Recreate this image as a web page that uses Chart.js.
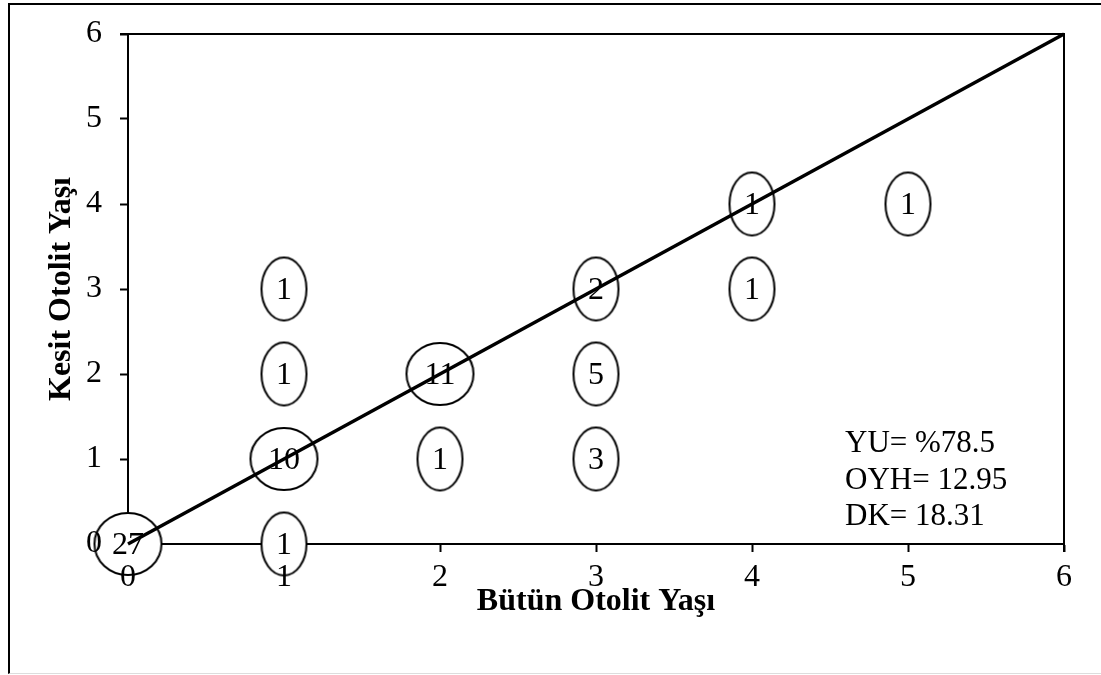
<!DOCTYPE html>
<html><head><meta charset="utf-8">
<script src="https://cdn.jsdelivr.net/npm/chart.js@4"></script>
<style>
html,body{margin:0;padding:0;background:#fff;overflow:hidden}
#wrap{position:relative;width:1101px;height:675px;overflow:hidden}
#frame{position:absolute;left:8px;top:3px;width:1200px;height:668px;border-left:2px solid #000;border-top:2px solid #000;border-bottom:1px solid #ddd}
canvas{position:absolute;left:0;top:0}
</style></head>
<body><div id="wrap"><div id="frame"></div><canvas id="c" width="1101" height="675"></canvas></div>
<script>
// Data
const butunYas = [0, 1, 1, 1, 1, 2, 2, 3, 3, 3, 4, 4, 5];
const kesitYas = [0, 0, 1, 2, 3, 1, 2, 1, 2, 3, 3, 4, 4];
const counts   = [27, 1, 10, 1, 1, 1, 11, 3, 5, 2, 1, 1, 1];
const lineX = [0, 6];
const lineY = [0, 6];
const axisMin = 0, axisMax = 6;
const statLines = ['YU= %78.5', 'OYH= 12.95', 'DK= 18.31'];
const xTitle = 'Bütün Otolit Yaşı';
const yTitle = 'Kesit Otolit Yaşı';

const SERIF = '"Liberation Serif", "Times New Roman", serif';

function makeEllipse(rx, ry) {
  const c = document.createElement('canvas');
  c.width = Math.ceil(rx * 2 + 4); c.height = Math.ceil(ry * 2 + 4);
  const g = c.getContext('2d');
  g.beginPath();
  g.ellipse(c.width / 2, c.height / 2, rx, ry, 0, 0, Math.PI * 2);
  g.fillStyle = '#fff'; g.fill();
  g.lineWidth = 2; g.strokeStyle = '#000'; g.stroke();
  return c;
}
const smallE = makeEllipse(22.5, 31.5);
const bigE = makeEllipse(33.5, 31);

const pts = butunYas.map((x, i) => ({x: x, y: kesitYas[i]}));
const linePts = lineX.map((x, i) => ({x: x, y: lineY[i]}));

const labelPlugin = {
  id: 'labels',
  beforeDatasetsDraw(chart) {
    const {ctx, chartArea: a} = chart;
    ctx.save();
    ctx.strokeStyle = '#000'; ctx.lineWidth = 2;
    ctx.beginPath();
    ctx.moveTo(a.left - 8, a.top); ctx.lineTo(a.right, a.top); ctx.lineTo(a.right, a.bottom + 8);
    ctx.stroke();
    ctx.restore();
  },
  afterDatasetDraw(chart, args) {
    if (args.index !== 1) return;
    const {ctx} = chart;
    const meta = chart.getDatasetMeta(1);
    ctx.save();
    ctx.font = '32px ' + SERIF;
    ctx.fillStyle = '#000';
    ctx.textAlign = 'center';
    ctx.textBaseline = 'middle';
    meta.data.forEach((el, i) => {
      ctx.fillText(String(counts[i]), el.x, el.y + 2);
    });
    ctx.restore();
  },
  afterDraw(chart) {
    const {ctx} = chart;
    ctx.save();
    ctx.font = '31px ' + SERIF;
    ctx.fillStyle = '#000';
    ctx.textAlign = 'left';
    ctx.textBaseline = 'alphabetic';
    statLines.forEach((t, i) => ctx.fillText(t, 845, 452 + i * 36.5));
    ctx.restore();
  }
};

new Chart(document.getElementById('c'), {
  type: 'scatter',
  data: {
    datasets: [
      {
        type: 'line', data: linePts, showLine: true, borderColor: '#000', borderWidth: 3.5,
        pointRadius: 0, fill: false, order: 0, clip: false
      },
      {
        data: pts, showLine: false, order: 1, clip: false,
        pointStyle: ctx => (counts[ctx.dataIndex] >= 10 ? bigE : smallE),
        pointRadius: 30
      }
    ]
  },
  options: {
    responsive: false, animation: false, devicePixelRatio: 1,
    layout: {padding: {top: 33, right: 37, left: 0, bottom: 0}},
    plugins: {legend: {display: false}, tooltip: {enabled: false}},
    scales: {
      x: {
        type: 'linear', min: axisMin, max: axisMax,
        ticks: {stepSize: 1, color: '#000', font: {family: SERIF, size: 32, lineHeight: 1}, padding: 10, maxRotation: 0, z: 1},
        grid: {drawOnChartArea: false, drawTicks: true, tickLength: 8, color: '#000', tickWidth: 2},
        border: {display: true, color: '#000', width: 2},
        title: {display: true, text: xTitle, color: '#000', font: {family: SERIF, size: 32, weight: 'bold', lineHeight: 1}, padding: {top: 0, bottom: 57}},
        afterFit(s) { s.height = 131; }
      },
      y: {
        type: 'linear', min: axisMin, max: axisMax,
        ticks: {stepSize: 1, color: '#000', font: {family: SERIF, size: 32, lineHeight: 1}, padding: 18, z: 1},
        grid: {drawOnChartArea: false, drawTicks: true, tickLength: 8, color: '#000', tickWidth: 2},
        border: {display: true, color: '#000', width: 2},
        title: {display: true, text: yTitle, color: '#000', font: {family: SERIF, size: 32, weight: 'bold', lineHeight: 1}, padding: {top: 46, bottom: 0}},
        afterFit(s) { s.width = 128; }
      }
    }
  },
  plugins: [labelPlugin]
});
</script>
</body></html>
